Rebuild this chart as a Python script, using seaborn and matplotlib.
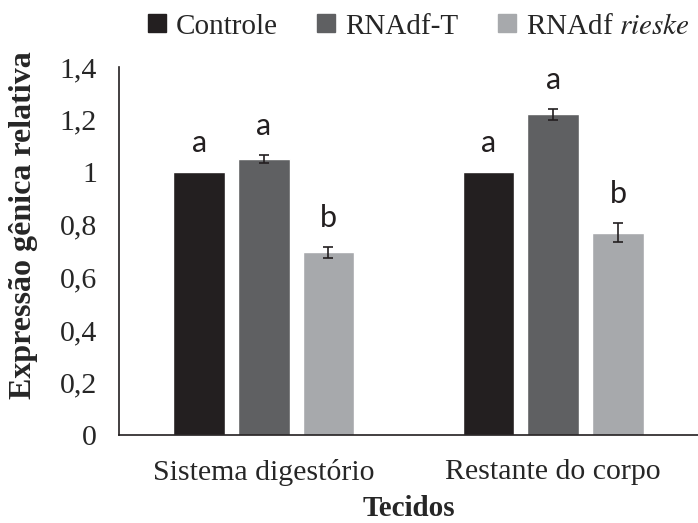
import matplotlib
matplotlib.use("Agg")
import matplotlib.pyplot as plt
from matplotlib.lines import Line2D
import seaborn as sns
import pandas as pd

# Relative gene expression per tissue and treatment
tissues = ["Sistema digestório", "Restante do corpo"]
treatments = ["Controle", "RNAdf-T", "RNAdf rieske"]
expr_digestorio = [1.00, 1.05, 0.695]
expr_corpo = [1.00, 1.22, 0.77]
err_digestorio = [0.0, 0.015, 0.02]
err_corpo = [0.0, 0.02, 0.035]
letters_digestorio = ["a", "a", "b"]
letters_corpo = ["a", "a", "b"]
legend_labels = ["Controle", "RNAdf-T", r"RNAdf $\it{rieske}$"]
yticks = [0, 0.2, 0.4, 0.6, 0.8, 1.0, 1.2, 1.4]
ytick_labels = ["0", "0,2", "0,4", "0,6", "0,8", "1", "1,2", "1,4"]
colors = ["#231f20", "#5f6062", "#a7a9ac"]

df = pd.DataFrame({
    "Tecido": [t for t in tissues for _ in treatments],
    "Tratamento": treatments * len(tissues),
    "Valor": expr_digestorio + expr_corpo,
    "Erro": err_digestorio + err_corpo,
    "Letra": letters_digestorio + letters_corpo,
})

sns.set_style("white")
plt.rcParams["font.family"] = ["Liberation Serif", "DejaVu Serif"]
plt.rcParams["mathtext.fontset"] = "stix"

fig = plt.figure(figsize=(6.98, 5.23), dpi=100)
ax = fig.add_axes([0.1705, 0.168, 0.8295, 0.704])

sns.barplot(data=df, x="Tecido", y="Valor", hue="Tratamento",
            hue_order=treatments, order=tissues, palette=colors,
            width=0.67, gap=0.2, errorbar=None, legend=False,
            saturation=1, ax=ax)

# Bars sorted by x follow tissue-major, treatment-minor order
bars = sorted([p for p in ax.patches if p.get_height() > 0],
              key=lambda p: p.get_x())
rows = [df[(df.Tecido == t) & (df.Tratamento == h)].iloc[0]
        for t in tissues for h in treatments]
for p, row in zip(bars, rows):
    cx = p.get_x() + p.get_width() / 2
    v = row["Valor"]
    e = row["Erro"]
    if e > 0:
        ax.errorbar(cx, v, yerr=e, fmt="none", ecolor="#231f20",
                    elinewidth=1.2, capsize=3.5, capthick=1.2)
    ax.text(cx, v + e + 0.058, row["Letra"], ha="center", va="bottom",
            fontsize=22, family=["Lato", "DejaVu Sans"], color="#231f20")

ax.set_ylim(0, 1.4)
ax.set_xlim(-0.5, 1.5)
ax.set_yticks(yticks)
ax.set_yticklabels(ytick_labels, fontsize=21.5)
ax.tick_params(axis="x", labelsize=21.5, pad=17, length=0)
ax.tick_params(axis="y", pad=16, length=0)
ax.set_xlabel("Tecidos", fontsize=21, fontweight="bold", labelpad=7)
ax.set_ylabel("Expressão gênica relativa", fontsize=23, fontweight="bold")
ax.yaxis.set_label_coords(-0.14, 0.57)
for s in ["top", "right"]:
    ax.spines[s].set_visible(False)
for s in ["left", "bottom"]:
    ax.spines[s].set_color("#231f20")
    ax.spines[s].set_linewidth(1.2)

handles = [Line2D([], [], marker="s", linestyle="none", markersize=12.5,
                  markerfacecolor=c, markeredgecolor=c) for c in colors]
fig.legend(handles, legend_labels, loc="upper center", ncol=3,
           bbox_to_anchor=(0.598, 1.025), frameon=False, fontsize=21,
           handletextpad=0.25, columnspacing=1.25, handlelength=0.8)

fig.savefig("out.png", dpi=100)
